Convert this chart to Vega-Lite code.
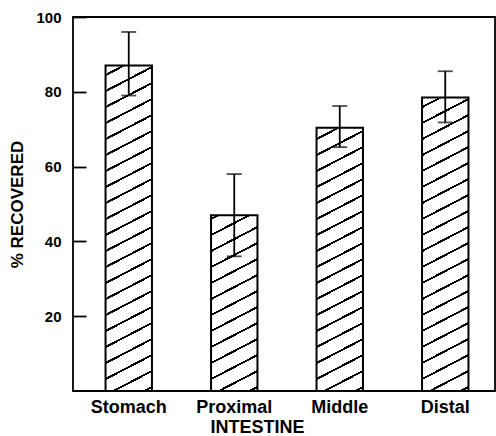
{
  "$schema": "https://vega.github.io/schema/vega-lite/v6.json",
  "width": 422,
  "height": 374,
  "autosize": {"type": "none"},
  "padding": {"left": 73, "top": 17, "right": 1, "bottom": 45},
  "background": "white",
  "config": {
    "view": {"stroke": "black", "strokeWidth": 1.8},
    "font": "Liberation Sans"
  },
  "data": {
    "values": [
      {"organ": "Stomach", "pct": 87, "lo": 79, "hi": 96},
      {"organ": "Proximal", "pct": 47, "lo": 36, "hi": 58},
      {"organ": "Middle", "pct": 70.4, "lo": 65.2, "hi": 76.2},
      {"organ": "Distal", "pct": 78.5, "lo": 71.8, "hi": 85.5}
    ]
  },
  "encoding": {
    "x": {
      "field": "organ",
      "type": "nominal",
      "sort": null,
      "scale": {"paddingInner": 0.56, "paddingOuter": 0.28, "range": [3, 425]},
      "axis": {
        "title": "INTESTINE",
        "titleFont": "Liberation Sans",
        "titleFontSize": 18,
        "titleFontWeight": "bold",
        "titleColor": "black",
        "titlePadding": 2,
        "titleX": 184,
        "titleAlign": "center",
        "labelAngle": 0,
        "labelFont": "Liberation Sans",
        "labelFontSize": 18,
        "labelFontWeight": "bold",
        "labelColor": "black",
        "labelPadding": 7,
        "labelDx": -4,
        "ticks": false,
        "domain": false
      }
    }
  },
  "layer": [
    {
      "mark": {
        "type": "bar",
        "stroke": null,
        "fill": {
          "gradient": "linear",
          "x1": 0, "y1": 0, "x2": 0.0768, "y2": 1.0715,
          "stops": [
            {"offset": 0, "color": "white"},
            {"offset": 0.0100, "color": "white"}, {"offset": 0.0100, "color": "black"}, {"offset": 0.0162, "color": "black"}, {"offset": 0.0162, "color": "white"},
            {"offset": 0.0541, "color": "white"}, {"offset": 0.0541, "color": "black"}, {"offset": 0.0603, "color": "black"}, {"offset": 0.0603, "color": "white"},
            {"offset": 0.0983, "color": "white"}, {"offset": 0.0983, "color": "black"}, {"offset": 0.1045, "color": "black"}, {"offset": 0.1045, "color": "white"},
            {"offset": 0.1424, "color": "white"}, {"offset": 0.1424, "color": "black"}, {"offset": 0.1486, "color": "black"}, {"offset": 0.1486, "color": "white"},
            {"offset": 0.1865, "color": "white"}, {"offset": 0.1865, "color": "black"}, {"offset": 0.1927, "color": "black"}, {"offset": 0.1927, "color": "white"},
            {"offset": 0.2307, "color": "white"}, {"offset": 0.2307, "color": "black"}, {"offset": 0.2369, "color": "black"}, {"offset": 0.2369, "color": "white"},
            {"offset": 0.2748, "color": "white"}, {"offset": 0.2748, "color": "black"}, {"offset": 0.2810, "color": "black"}, {"offset": 0.2810, "color": "white"},
            {"offset": 0.3189, "color": "white"}, {"offset": 0.3189, "color": "black"}, {"offset": 0.3251, "color": "black"}, {"offset": 0.3251, "color": "white"},
            {"offset": 0.3630, "color": "white"}, {"offset": 0.3630, "color": "black"}, {"offset": 0.3692, "color": "black"}, {"offset": 0.3692, "color": "white"},
            {"offset": 0.4072, "color": "white"}, {"offset": 0.4072, "color": "black"}, {"offset": 0.4134, "color": "black"}, {"offset": 0.4134, "color": "white"},
            {"offset": 0.4513, "color": "white"}, {"offset": 0.4513, "color": "black"}, {"offset": 0.4575, "color": "black"}, {"offset": 0.4575, "color": "white"},
            {"offset": 0.4954, "color": "white"}, {"offset": 0.4954, "color": "black"}, {"offset": 0.5016, "color": "black"}, {"offset": 0.5016, "color": "white"},
            {"offset": 0.5396, "color": "white"}, {"offset": 0.5396, "color": "black"}, {"offset": 0.5458, "color": "black"}, {"offset": 0.5458, "color": "white"},
            {"offset": 0.5837, "color": "white"}, {"offset": 0.5837, "color": "black"}, {"offset": 0.5899, "color": "black"}, {"offset": 0.5899, "color": "white"},
            {"offset": 0.6278, "color": "white"}, {"offset": 0.6278, "color": "black"}, {"offset": 0.6340, "color": "black"}, {"offset": 0.6340, "color": "white"},
            {"offset": 0.6720, "color": "white"}, {"offset": 0.6720, "color": "black"}, {"offset": 0.6782, "color": "black"}, {"offset": 0.6782, "color": "white"},
            {"offset": 0.7161, "color": "white"}, {"offset": 0.7161, "color": "black"}, {"offset": 0.7223, "color": "black"}, {"offset": 0.7223, "color": "white"},
            {"offset": 0.7602, "color": "white"}, {"offset": 0.7602, "color": "black"}, {"offset": 0.7664, "color": "black"}, {"offset": 0.7664, "color": "white"},
            {"offset": 0.8043, "color": "white"}, {"offset": 0.8043, "color": "black"}, {"offset": 0.8105, "color": "black"}, {"offset": 0.8105, "color": "white"},
            {"offset": 0.8485, "color": "white"}, {"offset": 0.8485, "color": "black"}, {"offset": 0.8547, "color": "black"}, {"offset": 0.8547, "color": "white"},
            {"offset": 0.8926, "color": "white"}, {"offset": 0.8926, "color": "black"}, {"offset": 0.8988, "color": "black"}, {"offset": 0.8988, "color": "white"},
            {"offset": 0.9367, "color": "white"}, {"offset": 0.9367, "color": "black"}, {"offset": 0.9429, "color": "black"}, {"offset": 0.9429, "color": "white"},
            {"offset": 0.9809, "color": "white"}, {"offset": 0.9809, "color": "black"}, {"offset": 0.9871, "color": "black"}, {"offset": 0.9871, "color": "white"},
            {"offset": 1, "color": "white"}
          ]
        }
      },
      "encoding": {
        "y": {
          "datum": 90,
          "type": "quantitative",
          "scale": {"domain": [0, 100], "nice": false, "zero": true},
          "axis": {
            "title": "% RECOVERED",
            "titleFont": "Liberation Sans",
            "titleFontSize": 17,
            "titleFontWeight": "bold",
            "titleColor": "black",
            "titlePadding": 9,
            "values": [20, 40, 60, 80, 100],
            "grid": false,
            "domain": false,
            "tickSize": -13,
            "tickWidth": 1.8,
            "tickColor": "black",
            "labelFont": "Liberation Sans",
            "labelFontSize": 15,
            "labelFontWeight": "bold",
            "labelColor": "black",
            "labelPadding": 25
          }
        },
        "y2": {"datum": 0}
      }
    },
    {
      "mark": {"type": "bar", "fill": "white", "stroke": "white", "strokeWidth": 1.5},
      "encoding": {
        "y": {"field": "pct", "type": "quantitative", "title": "% RECOVERED"},
        "y2": {"datum": 90}
      }
    },
    {
      "mark": {"type": "bar", "fill": null, "fillOpacity": 0, "stroke": "black", "strokeWidth": 2},
      "encoding": {
        "y": {"field": "pct", "type": "quantitative", "title": "% RECOVERED"},
        "y2": {"datum": 0}
      }
    },
    {
      "mark": {"type": "rule", "color": "black", "strokeWidth": 1.8},
      "encoding": {
        "y": {"field": "lo", "type": "quantitative", "title": "% RECOVERED"},
        "y2": {"field": "hi"}
      }
    },
    {
      "mark": {"type": "tick", "orient": "horizontal", "color": "black", "size": 15, "thickness": 1.8},
      "encoding": {
        "y": {"field": "hi", "type": "quantitative", "title": "% RECOVERED"}
      }
    },
    {
      "mark": {"type": "tick", "orient": "horizontal", "color": "black", "size": 15, "thickness": 1.8},
      "encoding": {
        "y": {"field": "lo", "type": "quantitative", "title": "% RECOVERED"}
      }
    }
  ]
}
